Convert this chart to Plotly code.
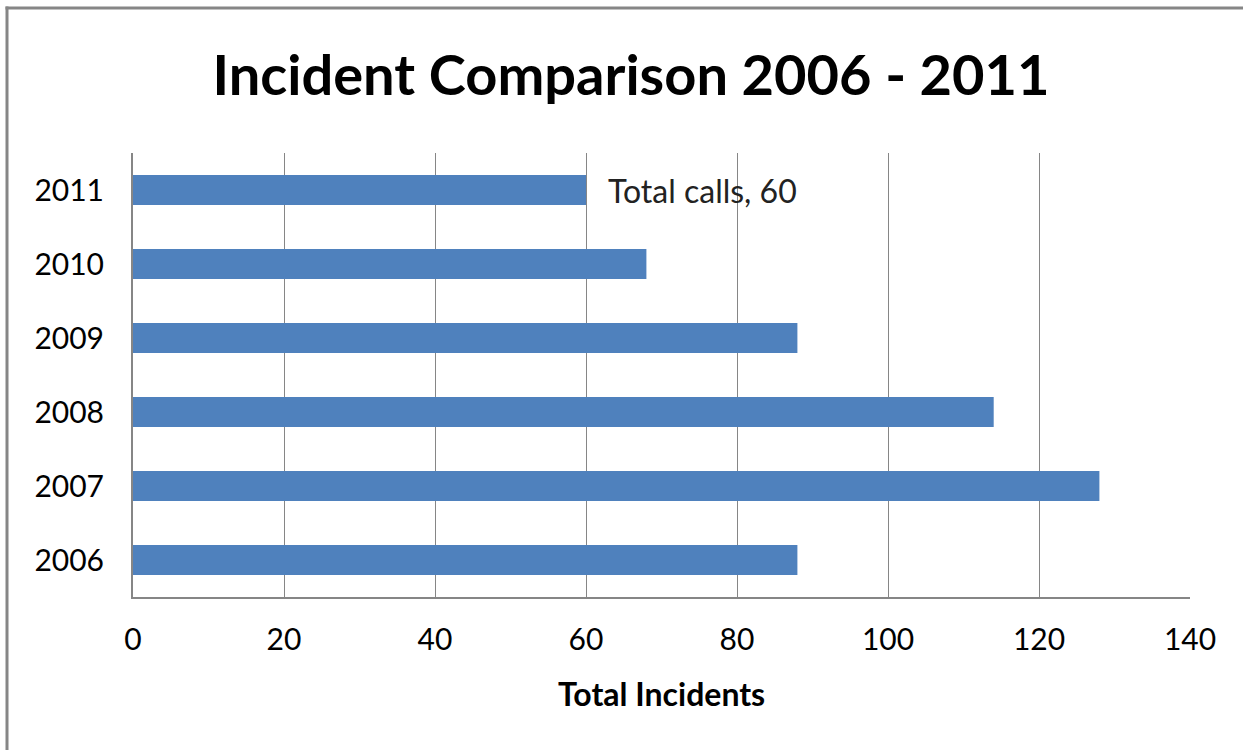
import plotly.graph_objects as go

years = ["2006", "2007", "2008", "2009", "2010", "2011"]
incidents = [88, 128, 114, 88, 68, 60]
x_ticks = [0, 20, 40, 60, 80, 100, 120, 140]
title_text = "Incident Comparison 2006 - 2011"
x_title = "Total Incidents"
label_text = "Total calls, 60"

FONT = "Lato, Open Sans, sans-serif"
GRAY = "#868686"

# plot area in pixels: x 133..1190, y 153..597
L, R, T, B = 133, 53, 153, 153
W, H = 1243, 750
pw, ph = W - L - R, H - T - B

def px_x(p):
    return (p - L) / pw

def px_y(p):
    return (H - B - p) / ph

fig = go.Figure(go.Bar(
    x=incidents, y=years, orientation="h",
    marker=dict(color="#4F81BD", line=dict(width=0)),
    width=0.405, hoverinfo="x+y",
))

fig.update_layout(
    width=W, height=H,
    margin=dict(l=L, r=R, t=T, b=B),
    paper_bgcolor="white", plot_bgcolor="white",
    showlegend=False,
    font=dict(family=FONT, color="black", size=30),
    title=dict(text=title_text, x=631 / W, xanchor="center", xref="container",
               y=1 - 75 / H, yanchor="middle",
               font=dict(family=FONT, size=56, color="black", weight="bold")),
    xaxis=dict(range=[0, 140], tickvals=x_ticks, showgrid=True, gridcolor=GRAY, gridwidth=1.3,
               showline=True, linecolor=GRAY, linewidth=2, zeroline=False,
               ticks="", ticklabelstandoff=15, tickfont=dict(size=30, family=FONT)),
    yaxis=dict(type="category", categoryorder="array", categoryarray=years,
               range=[-0.5, len(years) - 0.5], autorange=False,
               showgrid=False, showline=True, linecolor=GRAY, linewidth=2,
               ticks="", ticklabelstandoff=21, tickfont=dict(size=30, family=FONT)),
    annotations=[
        dict(x=incidents[-1], y=len(years) - 1, xref="x", yref="y", text=label_text,
             showarrow=False, xanchor="left", yanchor="middle", xshift=20,
             font=dict(size=32, family=FONT, color="#222222")),
        dict(x=0.5, y=px_y(693), xref="paper", yref="paper", text=x_title,
             showarrow=False, xanchor="center", yanchor="middle",
             font=dict(size=32, family=FONT, color="black", weight="bold")),
    ],
    shapes=[
        dict(type="line", xref="paper", yref="paper", x0=px_x(5.5), x1=px_x(1243), y0=px_y(8), y1=px_y(8),
             line=dict(color=GRAY, width=3)),
        dict(type="line", xref="paper", yref="paper", x0=px_x(7), x1=px_x(7), y0=px_y(6.5), y1=px_y(750),
             line=dict(color=GRAY, width=3)),
    ],
)

fig.write_html("out.html")
